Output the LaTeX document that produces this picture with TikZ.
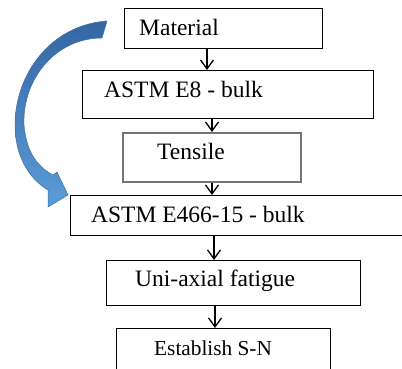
\documentclass[tikz,border=0pt]{standalone}
\usepackage{fontspec}
\setmainfont{Liberation Serif}
\newfontfamily\boxfont{Liberation Serif}
\usetikzlibrary{arrows.meta}
\definecolor{blueA}{RGB}{52,102,162}
\definecolor{blueB}{RGB}{92,156,214}
\definecolor{blueE}{RGB}{60,110,170}
\tikzset{
  box/.style={draw=black, line width=1.3pt, inner sep=0pt, anchor=north west},
  graybox/.style={draw=black!55, line width=1.8pt, inner sep=0pt, anchor=north west},
  lbl/.style={anchor=base west, inner sep=0pt, font=\boxfont\fontsize{23.5}{28}\selectfont},
  lblsmall/.style={anchor=base west, inner sep=0pt, font=\boxfont\fontsize{21.3}{26}\selectfont},
  arr/.style={line width=1.3pt, -{Straight Barb[length=9pt,width=13pt]}},
}
\begin{document}
\begin{tikzpicture}[x=1pt,y=-1pt]
\useasboundingbox (0,0) rectangle (402,369);
% boxes
\node[box, minimum width=198pt, minimum height=40pt] (m) at (124,8) {};
\node[box, minimum width=291pt, minimum height=48pt] (e8) at (82,70) {};
\node[graybox, minimum width=178pt, minimum height=49pt] (ts) at (122,132) {};
\node[box, minimum width=345pt, minimum height=40pt] (e466) at (70,195) {};
\node[box, minimum width=254pt, minimum height=45pt] (uni) at (106,260) {};
\node[box, minimum width=214pt, minimum height=55pt] (sn) at (116,328) {};
% labels
\node[lbl] (tm) at (139,36) {Material};
\node[lbl] (te8) at (104,98) {ASTM E8 - bulk};
\node[lbl] (tts) at (157,159) {Tensile};
\node[lbl] (te466) at (91,222) {ASTM E466-15 - bulk};
\node[lbl] (tuni) at (135,286) {Uni-axial fatigue};
\node[lblsmall] (tsn) at (154,355) {Establish S-N};
% connectors
\coordinate (x1) at (207,0);
\coordinate (x2) at (212,0);
\coordinate (x3) at (214,0);
\coordinate (x4) at (215,0);
\draw[arr] (m.south -| x1) -- (e8.north -| x1);
\draw[arr] (e8.south -| x2) -- (ts.north -| x2);
\draw[arr] (ts.south -| x2) -- (e466.north -| x2);
\draw[arr] (e466.south -| x3) -- (uni.north -| x3);
\draw[arr] (uni.south -| x4) -- (sn.north -| x4);
% blue curved block arrow
\shade[top color=blueA, bottom color=blueB, draw=blueE, line width=0.5pt]
  (107,21) .. controls (50,25) and (15,75) .. (15,125)
  .. controls (15,155) and (28,178) .. (48,190)
  -- (48,207) -- (68,195) -- (57,172) -- (53,175)
  .. controls (36,166) and (26,150) .. (24,125)
  .. controls (22,80) and (55,38) .. (102,38) -- cycle;
\end{tikzpicture}
\end{document}
